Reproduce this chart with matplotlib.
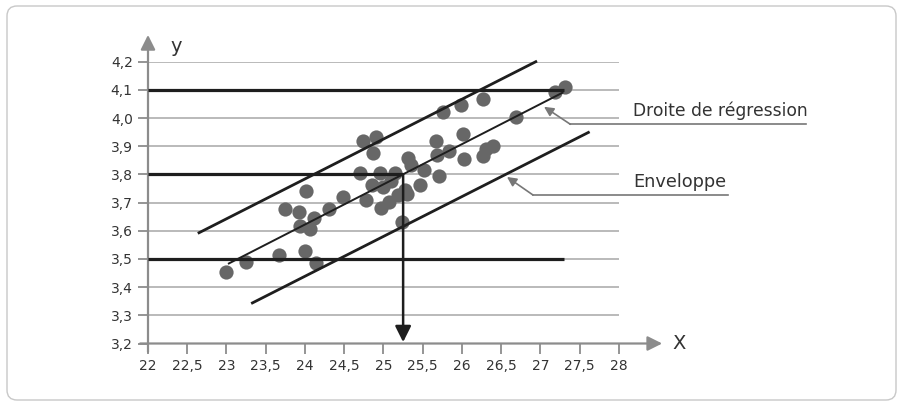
import matplotlib.pyplot as plt
import numpy as np
from matplotlib.patches import FancyBboxPatch

# data
x_pts = [23.0, 23.25, 23.67, 23.74, 23.92, 23.94, 24.01, 24.0, 24.07, 24.11,
         24.14, 24.31, 24.49, 24.7, 24.74, 24.78, 24.85, 24.86, 24.91, 24.95,
         24.97, 25.0, 25.07, 25.1, 25.15, 25.18, 25.24, 25.28, 25.3, 25.31,
         25.35, 25.46, 25.51, 25.67, 25.68, 25.71, 25.76, 25.84, 25.99, 26.01,
         26.02, 26.27, 26.27, 26.31, 26.39, 26.69, 27.19, 27.31]
y_pts = [3.453, 3.49, 3.514, 3.677, 3.665, 3.618, 3.742, 3.529, 3.605, 3.644,
         3.484, 3.679, 3.72, 3.805, 3.917, 3.709, 3.764, 3.876, 3.933, 3.804,
         3.682, 3.754, 3.703, 3.776, 3.806, 3.727, 3.63, 3.744, 3.73, 3.859,
         3.833, 3.762, 3.815, 3.92, 3.869, 3.794, 4.021, 3.883, 4.045, 3.942,
         3.854, 4.067, 3.866, 3.89, 3.901, 4.005, 4.093, 4.109]

reg_x = [23.03, 27.28]
reg_y = [3.484, 4.09]
env_up_x = [22.65, 26.94]
env_up_y = [3.593, 4.2]
env_lo_x = [23.33, 27.61]
env_lo_y = [3.344, 3.949]

levels = [4.1, 3.8, 3.5]
level_end = [27.3, 25.25, 27.3]
x_read = 25.25

xticks = np.arange(22, 28.01, 0.5)
yticks = np.arange(3.2, 4.21, 0.1)
xlabels = ['22', '22,5', '23', '23,5', '24', '24,5', '25', '25,5', '26', '26,5', '27', '27,5', '28']
ylabels = ['3,2', '3,3', '3,4', '3,5', '3,6', '3,7', '3,8', '3,9', '4,0', '4,1', '4,2']

plt.rcParams['font.family'] = 'DejaVu Sans'
grey = '#8c8c8c'
ink = '#1e1e1e'
txt = '#333333'
note = '#777777'

fig = plt.figure(figsize=(9.03, 4.05), dpi=100)
frame = FancyBboxPatch((7, 5), 889, 394, boxstyle='round,pad=0,rounding_size=10',
                       transform=None, fc='white', ec='#c8c8c8', lw=1, zorder=-5)
fig.patches.append(frame)
ax = fig.add_axes([148/903, (405-343.5)/405, 471/903, 281.8/405])
ax.set_xlim(22, 28)
ax.set_ylim(3.2, 4.2)
for s in ax.spines.values():
    s.set_visible(False)
ax.patch.set_alpha(0)

ax.set_xticks(xticks, xlabels)
ax.set_yticks(yticks, ylabels)
ax.tick_params(direction='out', length=7, width=1.3, color=grey, labelcolor=txt, labelsize=10, pad=4)
ax.grid(axis='y', color='#b4b4b4', lw=1.3, zorder=0)
ax.set_axisbelow(True)

# axes with arrows
ax.annotate('', xy=(22, 4.295), xytext=(22, 3.17), annotation_clip=False,
            arrowprops=dict(arrowstyle='-|>', color=grey, lw=1.6, mutation_scale=22, shrinkA=0, shrinkB=0))
ax.annotate('', xy=(28.55, 3.2), xytext=(21.9, 3.2), annotation_clip=False,
            arrowprops=dict(arrowstyle='-|>', color=grey, lw=1.6, mutation_scale=22, shrinkA=0, shrinkB=0))
ax.text(22.28, 4.255, 'y', fontsize=14, color=txt, va='center')
ax.text(28.68, 3.2, 'X', fontsize=14, color=txt, va='center')

ax.scatter(x_pts, y_pts, s=105, color='#676767', lw=0, zorder=2, clip_on=False)

for lv, end in zip(levels, level_end):
    ax.plot([22, end], [lv, lv], color=ink, lw=2.3, zorder=3, solid_capstyle='butt')
ax.annotate('', xy=(x_read, 3.205), xytext=(x_read, 3.8),
            arrowprops=dict(arrowstyle='-|>', color=ink, lw=1.8, mutation_scale=24, shrinkA=0, shrinkB=0), zorder=3)

ax.plot(reg_x, reg_y, color=ink, lw=1.4, zorder=3)
ax.plot(env_up_x, env_up_y, color=ink, lw=2, zorder=3, clip_on=False)
ax.plot(env_lo_x, env_lo_y, color=ink, lw=2, zorder=3)

# labels
ax.annotate('', xy=(27.045, 4.04), xytext=(27.38, 3.978), annotation_clip=False,
            arrowprops=dict(arrowstyle='-|>', color=note, lw=1.2, mutation_scale=14, shrinkA=0, shrinkB=0))
ax.plot([27.38, 30.38], [3.978, 3.978], color=note, lw=1.2, clip_on=False)
ax.text(28.18, 4.025, 'Droite de régression', fontsize=12.3, color=txt, va='center')

ax.annotate('', xy=(26.573, 3.791), xytext=(26.904, 3.727), annotation_clip=False,
            arrowprops=dict(arrowstyle='-|>', color=note, lw=1.2, mutation_scale=14, shrinkA=0, shrinkB=0))
ax.plot([26.904, 29.39], [3.727, 3.727], color=note, lw=1.2, clip_on=False)
ax.text(28.18, 3.772, 'Enveloppe', fontsize=12.8, color=txt, va='center')

plt.savefig('out.png')
